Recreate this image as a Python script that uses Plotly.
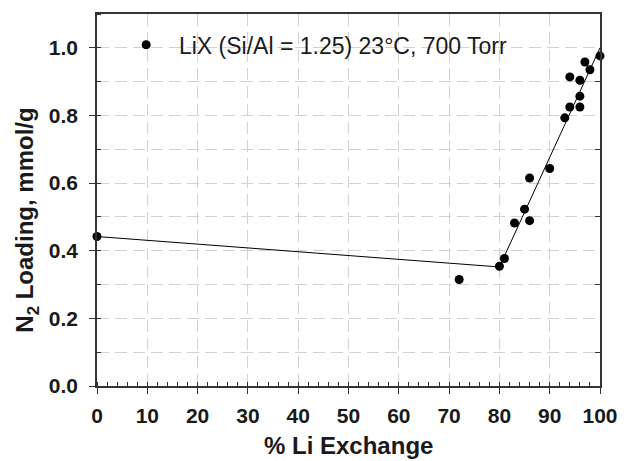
import plotly.graph_objects as go

# Data
li_exchange = [0, 72, 80, 81, 83, 85, 86, 86, 90, 93, 94, 94, 96, 96, 96, 97, 98, 100]
n2_loading = [0.442, 0.315, 0.354, 0.377, 0.482, 0.523, 0.489, 0.615, 0.643, 0.793,
              0.825, 0.914, 0.825, 0.857, 0.904, 0.958, 0.935, 0.976]

fit_x = [0, 80, 100]
fit_y = [0.442, 0.352, 1.0]

series_name = "\u00a0\u00a0LiX (Si/Al = 1.25) 23°C, 700 Torr"
x_title = "% Li Exchange"
y_title = "N<sub>2</sub> Loading, mmol/g"

x_ticks = [0, 10, 20, 30, 40, 50, 60, 70, 80, 90, 100]
y_ticks = [0.0, 0.2, 0.4, 0.6, 0.8, 1.0]
y_right_ticks = [0.1, 0.3, 0.5, 0.7, 0.9]

FONT = "Liberation Sans, Arial, Helvetica, sans-serif"
AXIS_COLOR = "#333333"
GRID_COLOR = "#d2d2d2"
TEXT_COLOR = "#1a1a1a"

fig = go.Figure()

fig.add_trace(go.Scatter(
    x=fit_x, y=fit_y, mode="lines",
    line=dict(color="black", width=1),
    showlegend=False, hoverinfo="skip", cliponaxis=False,
))

fig.add_trace(go.Scatter(
    x=li_exchange, y=n2_loading, mode="markers", name=series_name,
    marker=dict(color="black", size=9, symbol="circle"),
    cliponaxis=False,
))

# invisible trace to carry right-hand axis ticks
fig.add_trace(go.Scatter(
    x=[None], y=[None], yaxis="y2", showlegend=False, hoverinfo="skip",
))

fig.update_layout(
    width=630, height=461,
    margin=dict(l=97, r=20, t=14, b=75),
    paper_bgcolor="white", plot_bgcolor="white",
    font=dict(family=FONT, color=TEXT_COLOR),
    showlegend=True,
    legend=dict(
        x=0.058, y=0.975, xanchor="left", yanchor="top",
        bgcolor="rgba(0,0,0,0)", borderwidth=0,
        font=dict(family=FONT, size=23, color=TEXT_COLOR),
    ),
    xaxis=dict(
        range=[0, 100], tickvals=x_ticks,
        ticks="outside", ticklen=6, tickwidth=1.2, tickcolor=AXIS_COLOR,
        ticklabelstandoff=4,
        showline=True, linecolor=AXIS_COLOR, linewidth=1.5, mirror=True,
        showgrid=True, gridcolor=GRID_COLOR, gridwidth=1.2, griddash="12px,6px",
        zeroline=False,
        tickfont=dict(family=FONT, size=21, weight="bold", color=TEXT_COLOR),
        minor=dict(dtick=2, tick0=0, ticks="inside", ticklen=4, tickwidth=1.2,
                   tickcolor=AXIS_COLOR, showgrid=False),
    ),
    yaxis=dict(
        range=[0, 1.1], tickvals=y_ticks, ticktext=[f"{v:.1f}" for v in y_ticks],
        ticks="outside", ticklen=6, tickwidth=1.2, tickcolor=AXIS_COLOR,
        ticklabelstandoff=7,
        showline=True, linecolor=AXIS_COLOR, linewidth=1.5, mirror=True,
        showgrid=True, gridcolor=GRID_COLOR, gridwidth=1.2, griddash="12px,6px",
        zeroline=False,
        tickfont=dict(family=FONT, size=21, weight="bold", color=TEXT_COLOR),
        minor=dict(dtick=0.1, tick0=0, ticks="inside", ticklen=4, tickwidth=1.2,
                   tickcolor=AXIS_COLOR, showgrid=True, gridcolor=GRID_COLOR,
                   gridwidth=1.2, griddash="12px,6px"),
    ),
    yaxis2=dict(
        range=[0, 1.1], overlaying="y", side="right", anchor="x",
        tickvals=y_right_ticks, ticks="inside", ticklen=5, tickwidth=1.2,
        tickcolor=AXIS_COLOR, showticklabels=False, showgrid=False,
        showline=False, zeroline=False,
    ),
    annotations=[
        dict(text=x_title, xref="paper", yref="paper", x=0.5, y=-0.159,
             xanchor="center", yanchor="middle", showarrow=False,
             font=dict(family=FONT, size=24, weight="bold", color=TEXT_COLOR)),
        dict(text=y_title, xref="paper", yref="paper", x=-0.140, y=0.446,
             xanchor="center", yanchor="middle", textangle=-90, showarrow=False,
             font=dict(family=FONT, size=24, weight="bold", color=TEXT_COLOR)),
    ],
)

fig.write_html("out.html")
